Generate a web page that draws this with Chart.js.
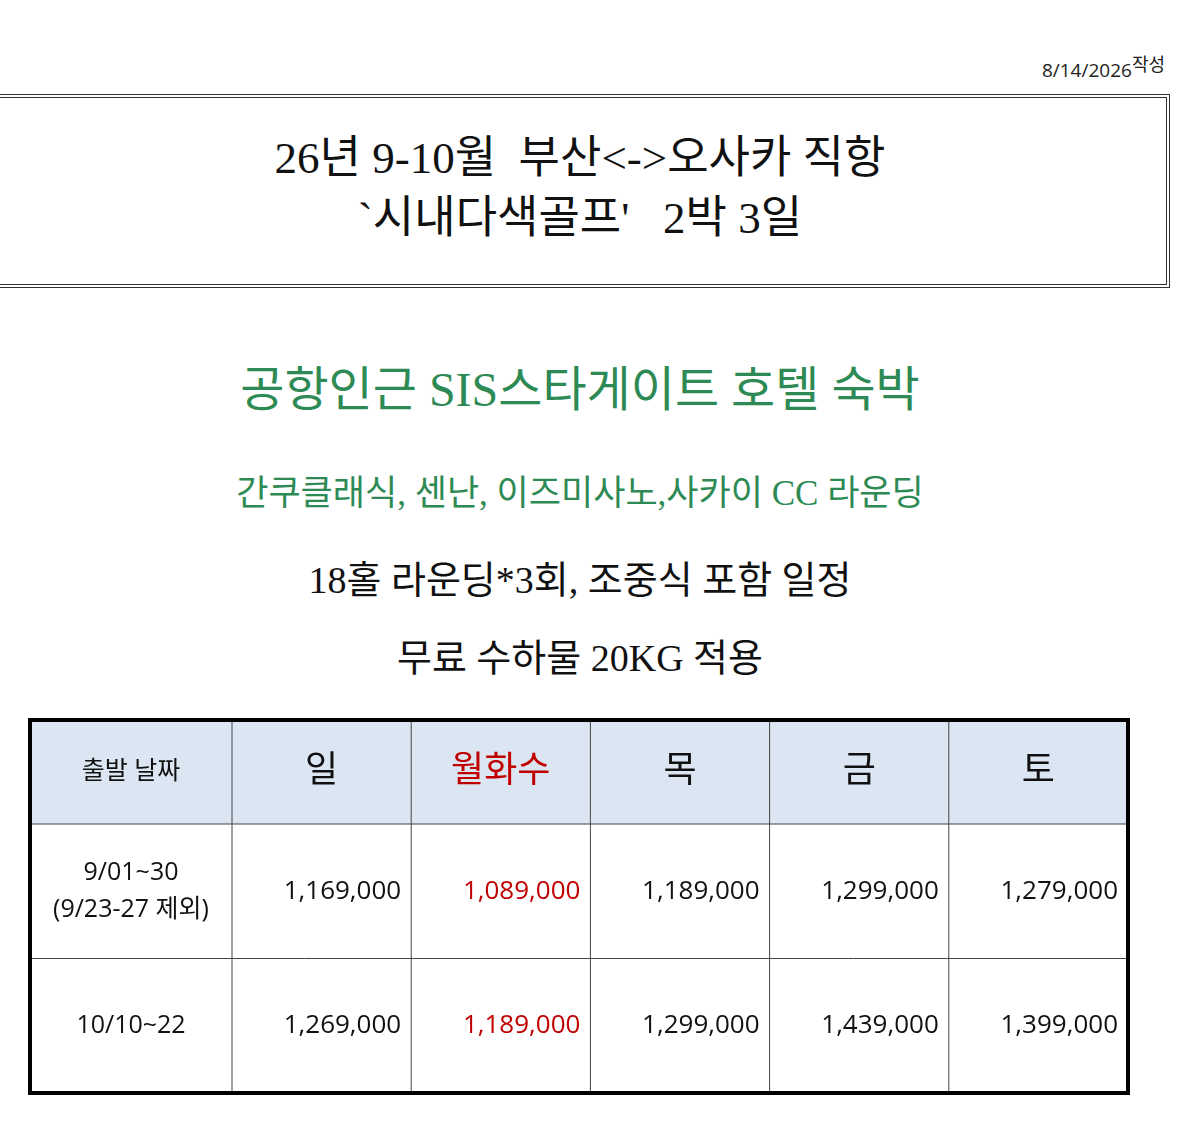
<!DOCTYPE html>
<html><head><meta charset="utf-8">
<script src="https://cdn.jsdelivr.net/npm/chart.js@4/dist/chart.umd.min.js"></script>
<style>
body{margin:0;background:#fff;width:1189px;height:1122px;position:relative;overflow:hidden;font-family:"Noto Sans CJK KR","Noto Sans",sans-serif}
.t{position:absolute;left:0;width:1160px;text-align:center;white-space:nowrap;font-family:"Liberation Serif","Noto Sans CJK KR",serif}
#box{position:absolute;left:-4px;top:94px;width:1166px;height:186px;border:4px double #333}
#wrap{position:absolute;left:28px;top:718px;width:1102px;height:377px}
</style></head><body>
<div style="position:absolute;right:24px;top:50px;font-size:19px;color:#222;font-family:'Open Sans','Noto Sans CJK KR'">8/14/2026<sup style="font-size:18px;vertical-align:6px">작성</sup></div>
<div id="box"></div>
<div class="t" style="top:128px;font-size:45px;line-height:60px;color:#111">26년 9-10월&nbsp; 부산&lt;-&gt;오사카 직항<br>`시내다색골프' &nbsp; 2박 3일</div>
<div class="t" style="top:350px;font-size:48px;color:#2e8a54">공항인근 SIS스타게이트 호텔 숙박</div>
<div class="t" style="top:464px;font-size:35px;color:#2e8a54">간쿠클래식, 센난, 이즈미사노,사카이 CC 라운딩</div>
<div class="t" style="top:549px;font-size:38px;color:#111">18홀 라운딩*3회, 조중식 포함 일정</div>
<div class="t" style="top:627px;font-size:38px;color:#111">무료 수하물 20KG 적용</div>
<div id="wrap"><canvas id="tbl"></canvas></div>
<script>
const headers = ['출발 날짜', '일', '월화수', '목', '금', '토'];
const rowLabels = [['9/01~30', '(9/23-27 제외)'], ['10/10~22']];
const prices = [
  [1169000, 1089000, 1189000, 1299000, 1279000],
  [1269000, 1189000, 1299000, 1439000, 1399000]
];
const redCol = 1;

const tablePlugin = {
  id: 'tablePlugin',
  afterDraw(chart) {
    const ctx = chart.ctx, a = chart.chartArea;
    const firstW = 202, restW = (a.right - a.left - firstW) / 5;
    const edges = [a.left, a.left + firstW];
    for (let i = 1; i <= 5; i++) edges.push(a.left + firstW + restW * i);
    const headH = 104, rowH = (a.bottom - a.top - headH) / 2;
    const rowEdges = [a.top, a.top + headH, a.top + headH + rowH, a.bottom];
    ctx.save();
    ctx.fillStyle = '#dce6f2';
    ctx.fillRect(a.left, a.top, a.right - a.left, headH);
    ctx.strokeStyle = '#444'; ctx.lineWidth = 1;
    edges.slice(1, -1).forEach(x => { ctx.beginPath(); ctx.moveTo(x, a.top); ctx.lineTo(x, a.bottom); ctx.stroke(); });
    rowEdges.slice(1, -1).forEach(y => { ctx.beginPath(); ctx.moveTo(a.left, y); ctx.lineTo(a.right, y); ctx.stroke(); });
    ctx.lineWidth = 4; ctx.strokeStyle = '#000';
    ctx.strokeRect(a.left, a.top, a.right - a.left, a.bottom - a.top);
    ctx.textBaseline = 'middle';
    headers.forEach((h, i) => {
      ctx.font = i === 0 ? '25px "Open Sans","Noto Sans CJK KR"' : '36px "Open Sans","Noto Sans CJK KR"';
      ctx.fillStyle = i === redCol + 1 ? '#c00000' : '#111';
      ctx.textAlign = 'center';
      ctx.fillText(h, (edges[i] + edges[i + 1]) / 2, a.top + headH / 2);
    });
    prices.forEach((row, r) => {
      const cy = (rowEdges[r + 1] + rowEdges[r + 2]) / 2;
      ctx.font = '25px "Open Sans","Noto Sans CJK KR"'; ctx.fillStyle = '#111'; ctx.textAlign = 'center';
      const lbl = rowLabels[r];
      lbl.forEach((s, k) => ctx.fillText(s, (edges[0] + edges[1]) / 2, cy + (k - (lbl.length - 1) / 2) * 37));
      ctx.textAlign = 'right';
      ctx.font = '26px "Open Sans","Noto Sans CJK KR"';
      row.forEach((v, c) => {
        ctx.fillStyle = c === redCol ? '#c00000' : '#111';
        ctx.fillText(v.toLocaleString('en-US'), edges[c + 2] - 10, cy);
      });
    });
    ctx.restore();
  }
};

new Chart(document.getElementById('tbl'), {
  type: 'bar',
  data: { labels: headers, datasets: [{ data: [] }] },
  options: {
    responsive: true, maintainAspectRatio: false, animation: false,
    layout: { padding: 2 },
    plugins: { legend: { display: false }, tooltip: { enabled: false } },
    scales: { x: { display: false }, y: { display: false, type: 'category', labels: ['head', 'r1', 'r2'] } }
  },
  plugins: [tablePlugin]
});
</script>
</body></html>
